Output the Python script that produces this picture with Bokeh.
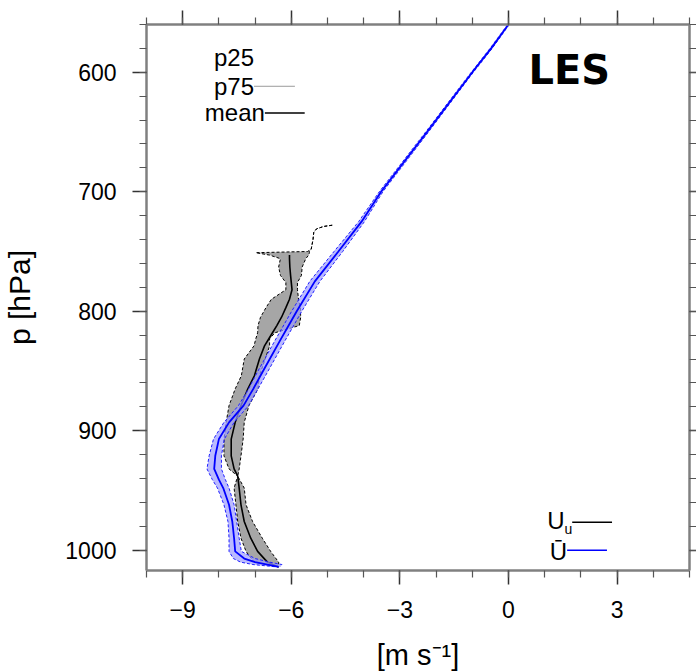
from bokeh.plotting import figure
from bokeh.models import Range1d, LinearAxis, SingleIntervalTicker, Label, CustomJSTickFormatter
from bokeh.embed import file_html
from bokeh.resources import INLINE

nan = float("nan")

# LES profile of U_u: pressure levels [hPa] and p25 / p75 / mean [m s-1]
p_les = [728, 729, 731, 734, 740, 748, 750, 751, 753, 756, 763, 770, 776, 782,
         790, 797, 805, 812, 818, 823, 829, 840, 854, 865, 879, 893, 907, 921,
         932, 938, 948, 962, 976, 990, 1001, 1010, 1014]
uu_p25 = [-4.87, -5.1, -5.3, -5.38, -5.4, -5.45, -5.55, -6.98, -6.6, -6.3,
          -6.35, -6.3, -6.15, -6.15, -6.55, -6.7, -6.85, -6.92, -6.93, -6.98,
          -7.03, -7.3, -7.38, -7.55, -7.72, -7.8, -7.86, -7.86, -7.72, -7.48,
          -7.58, -7.53, -7.48, -7.39, -7.25, -7.03, -6.35]
uu_p75 = [-4.87, -5.1, -5.3, -5.38, -5.4, -5.45, -5.5, -5.5, -5.52, -5.6,
          -5.7, -5.72, -5.83, -5.83, -5.8, -5.75, -5.74, -5.78, -6.45, -6.6,
          -6.6, -6.72, -6.88, -6.92, -7.17, -7.3, -7.33, -7.39, -7.44, -7.48,
          -7.3, -7.25, -7.07, -6.8, -6.57, -6.35, -6.35]
uu_mean = [nan, nan, nan, nan, nan, nan, nan, nan, -6.05, -6.05, -6.04, -6.02,
           -6.0, -5.98, -6.05, -6.15, -6.27, -6.4, -6.52, -6.62, -6.74, -6.88,
           -7.02, -7.2, -7.39, -7.55, -7.66, -7.66, -7.58, -7.48, -7.44, -7.39,
           -7.3, -7.12, -6.93, -6.66, -6.35]

# mean wind U-bar
p_bar = [560, 580, 600, 650, 700, 725, 750, 775, 800, 825, 850, 865, 879, 893,
         907, 921, 932, 941, 948, 962, 976, 990, 1001, 1007, 1010, 1012, 1014]
ubar_mean = [0.0, -0.48, -1.0, -2.25, -3.52, -4.06, -4.7, -5.35, -5.85, -6.32,
             -6.78, -7.05, -7.32, -7.72, -8.0, -8.1, -8.13, -8.0, -7.88, -7.72,
             -7.63, -7.58, -7.55, -7.3, -7.0, -6.66, -6.35]
ubar_p25 = [-0.02, -0.51, -1.03, -2.29, -3.57, -4.14, -4.82, -5.49, -5.99,
            -6.46, -6.92, -7.18, -7.46, -7.86, -8.15, -8.27, -8.33, -8.18,
            -8.04, -7.86, -7.75, -7.72, -7.72, -7.6, -7.4, -7.06, -6.4]
ubar_p75 = [0.02, -0.45, -0.97, -2.21, -3.47, -3.98, -4.58, -5.21, -5.71,
            -6.18, -6.64, -6.92, -7.18, -7.58, -7.85, -7.93, -7.93, -7.82,
            -7.72, -7.58, -7.51, -7.44, -7.38, -7.0, -6.6, -6.26, -6.3]

FONT = "Liberation Sans"

p = figure(frame_width=543, frame_height=546,
           min_border_left=137, min_border_top=24, min_border_right=8,
           min_border_bottom=94,
           x_range=Range1d(-10, 5), y_range=Range1d(1017, 560),
           x_axis_label="[m s⁻¹]", y_axis_label="p [hPa]",
           output_backend="svg", toolbar_location=None)
p.outline_line_color = None
p.grid.visible = False
p.background_fill_color = "white"
p.border_fill_color = "white"

blank = CustomJSTickFormatter(code="return ''")
p.add_layout(LinearAxis(formatter=blank, major_label_standoff=0), "above")
p.add_layout(LinearAxis(formatter=blank, major_label_standoff=0), "right")

for ax in p.xaxis:
    ax.ticker = SingleIntervalTicker(interval=3, num_minor_ticks=3)
for ax in p.yaxis:
    ax.ticker = SingleIntervalTicker(interval=100, num_minor_ticks=5)

for ax in p.axis:
    ax.axis_line_color = "#808080"
    ax.axis_line_width = 2.5
    ax.major_tick_line_color = "#333333"
    ax.major_tick_line_width = 1.5
    ax.minor_tick_line_color = "#555555"
    ax.minor_tick_line_width = 1.2
    ax.major_tick_in = 0
    ax.minor_tick_in = 0
    ax.major_tick_out = 14
    ax.minor_tick_out = 7
    ax.major_label_text_font = FONT
    ax.major_label_text_font_size = "23px"
    ax.major_label_text_color = "black"
    ax.axis_label_text_font = FONT
    ax.axis_label_text_font_style = "normal"
    ax.axis_label_text_color = "black"

p.xaxis[1].major_label_standoff = 16
p.yaxis[0].major_label_standoff = 16
p.yaxis[0].axis_label_text_font_size = "30px"
p.xaxis[1].axis_label_text_font_size = "29px"
p.yaxis[0].axis_label_standoff = 26
p.xaxis[1].axis_label_standoff = 18

# LES U_u: grey interquartile band, dashed edges, solid mean
p.harea(x1=uu_p25, x2=uu_p75, y=p_les, fill_color="#a6a6a6")
p.line(uu_p25, p_les, line_color="black", line_width=1, line_dash="3 2")
p.line(uu_p75, p_les, line_color="black", line_width=1, line_dash="3 2")
p.line(uu_mean, p_les, line_color="black", line_width=1.6)

# U-bar: light blue band with blue dashed edges and mean
p.harea(x1=ubar_p25, x2=ubar_p75, y=p_bar, fill_color="#9c9cff", fill_alpha=0.7)
p.line(ubar_p25, p_bar, line_color="#2020ff", line_width=1, line_dash="3 2")
p.line(ubar_p75, p_bar, line_color="#2020ff", line_width=1, line_dash="3 2")
p.line(ubar_mean, p_bar, line_color="#0000ff", line_width=1.8)

# statistics legend (upper left)
def lab(x, y, text, size="24px", align="right", **kw):
    p.add_layout(Label(x=x, y=y, text=text, text_font=FONT, text_font_size=size,
                       text_align=align, text_baseline="middle",
                       text_color="black", **kw))

lab(-7.03, 588, "p25")
lab(-7.03, 611.7, "p75")
lab(-6.73, 634, "mean")
p.segment(x0=[-7.03], y0=[611.7], x1=[-5.9], y1=[611.7], line_color="#9a9a9a", line_width=1)
p.segment(x0=[-6.73], y0=[634], x1=[-5.63], y1=[634], line_color="black", line_width=1.5)

# variable legend (lower right)
lab(1.55, 975.5, "U")
lab(1.55, 982, "u", size="14px", align="left")
lab(1.62, 1001, "Ū")
p.segment(x0=[1.76], y0=[976.6], x1=[2.86], y1=[976.6], line_color="black", line_width=1.5)
p.segment(x0=[1.62], y0=[1000], x1=[2.72], y1=[1000], line_color="#0000ff", line_width=1.5)

p.add_layout(Label(x=1.68, y=598, text="LES", text_font="DejaVu Sans",
                   text_font_size="40px", text_font_style="bold",
                   text_align="center", text_baseline="middle",
                   text_color="black"))

open("out.html", "w").write(file_html(p, INLINE))
